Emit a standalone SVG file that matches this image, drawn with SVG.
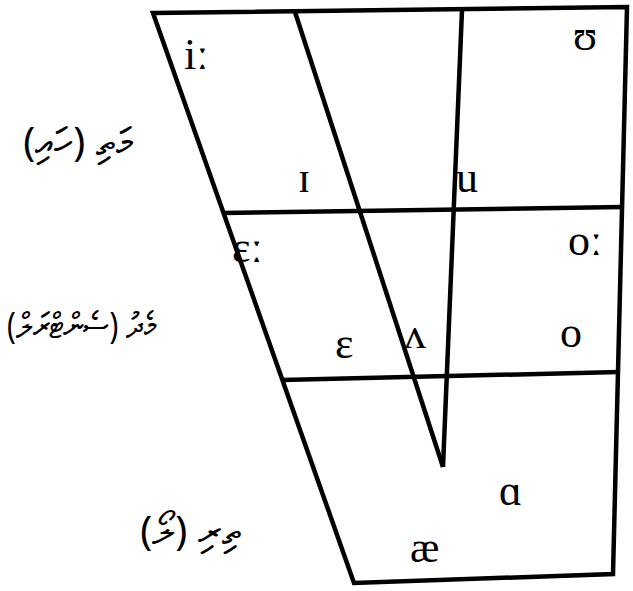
<svg xmlns="http://www.w3.org/2000/svg" width="633" height="591" viewBox="0 0 633 591">
<style>
.ln{fill:none;stroke:#000;stroke-width:4.5;stroke-linejoin:miter}
.v{font-family:"Liberation Serif","DejaVu Serif",serif;font-size:44px;fill:#000}
.t{font-family:"Noto Sans","DejaVu Sans",sans-serif;font-size:40px;fill:#000}
</style>
<rect width="633" height="591" fill="#fff"/>
<g id="connectors">
<polygon class="ln" points="153,13 627,7 613,574 354,583"/>
<line class="ln" x1="223" y1="213" x2="623" y2="207"/>
<line class="ln" x1="282" y1="380" x2="619" y2="372"/>
<line class="ln" x1="295" y1="12" x2="443" y2="467"/>
<line class="ln" x1="462" y1="10" x2="443" y2="467"/>
</g>
<g id="vowels">
<text id="v-ii" class="v" x="184" y="69">iː</text>
<text id="v-uu" class="v" x="573" y="50">ʊ</text>
<text id="v-I" class="v" x="298" y="192">ɪ</text>
<text id="v-u" class="v" x="456" y="192">u</text>
<text id="v-ee" class="v" x="232" y="262">ɛː</text>
<text id="v-oo" class="v" x="568" y="255">oː</text>
<text id="v-e" class="v" x="335" y="358">ɛ</text>
<text id="v-V" class="v" x="404" y="348">ʌ</text>
<text id="v-o" class="v" x="560" y="347">o</text>
<text id="v-a" class="v" x="499" y="505">ɑ</text>
<text id="v-ae" class="v" x="410" y="562">æ</text>
</g>
<g id="labels">
<text id="l-high" class="t" direction="rtl" text-anchor="middle" x="78" y="156">މަތި (ހައި)</text>
<text id="l-mid" class="t" direction="rtl" text-anchor="middle" x="82" y="338" style="font-size:36px" textLength="150" lengthAdjust="spacingAndGlyphs">މެދު (ސެންޓްރަލް)</text>
<text id="l-low" class="t" direction="rtl" text-anchor="middle" x="190" y="545">ތިރި (ލޯ)</text>
</g>
</svg>
